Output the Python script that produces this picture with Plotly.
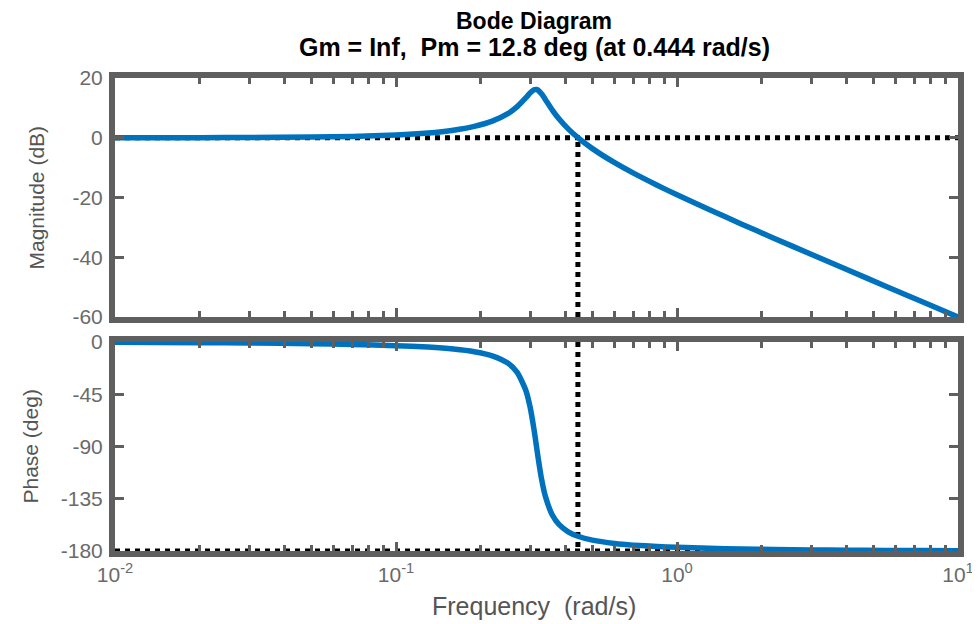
import plotly.graph_objects as go

# Frequency samples (rad/s)
freq = [0.01, 0.02, 0.03, 0.05, 0.07, 0.1, 0.13, 0.16, 0.19, 0.22, 0.25, 0.27,
        0.29, 0.30, 0.31, 0.316, 0.32, 0.33, 0.34, 0.36, 0.38, 0.41, 0.444,
        0.5, 0.6, 0.7, 0.85, 1.0, 1.3, 1.7, 2.2, 3.0, 4.0, 5.5, 7.5, 10.0]
# Magnitude (dB)
mag_db = [0.01, 0.03, 0.08, 0.22, 0.43, 0.90, 1.58, 2.52, 3.80, 5.56, 8.07, 10.40,
          13.40, 14.96, 16.04, 16.14, 15.94, 14.63, 12.80, 9.24, 6.34, 2.97, 0.04,
          -3.64, -8.36, -11.86, -15.90, -19.10, -24.03, -28.92, -33.52, -38.99,
          -44.03, -49.59, -54.99, -59.99]
# Phase (deg)
phase_deg = [-0.28, -0.57, -0.86, -1.45, -2.08, -3.14, -4.41, -6.06, -8.35, -11.88,
             -18.2, -26.17, -41.98, -55.95, -75.69, -89.47, -98.65, -118.67, -132.93,
             -149.04, -157.11, -163.46, -167.29, -170.66, -173.51, -174.94, -176.15,
             -176.86, -177.69, -178.28, -178.69, -179.05, -179.29, -179.48, -179.62,
             -179.72]

# Margin markers
wc = 0.444
x_range = [0.01, 10]
mag_ticks = [-60, -40, -20, 0, 20]
mag_text = ["-60", "-40", "-20", "0", "20"]
phase_ticks = [-180, -135, -90, -45, 0]
phase_text = ["-180", "-135", "-90", "-45", "0"]
x_major = [0.01, 0.1, 1, 10]
x_major_text = ["10<sup>-2</sup>", "10<sup>-1</sup>", "10<sup>0</sup>", "10<sup>1</sup>"]
x_minor = [m * d for d in [0.01, 0.1, 1] for m in range(2, 10)]

title_line1 = "Bode Diagram"
title_line2 = "Gm = Inf,  Pm = 12.8 deg (at 0.444 rad/s)"

BLUE = "#0072BD"
GRAY = "#5f5f5f"
LBL = "#6a6a6a"
TTL = "#555555"
FONT = "Liberation Sans, Arial, Helvetica, sans-serif"

fig = go.Figure()
dot = dict(color="black", width=5, dash="5px,5px")

fig.add_trace(go.Scatter(x=x_range, y=[0, 0], mode="lines", line=dot,
                         xaxis="x", yaxis="y", hoverinfo="skip"))
fig.add_trace(go.Scatter(x=[wc, wc], y=[mag_ticks[0], 0], mode="lines", line=dot,
                         xaxis="x", yaxis="y", hoverinfo="skip"))
fig.add_trace(go.Scatter(x=freq, y=mag_db, mode="lines",
                         line=dict(color=BLUE, width=5.5, shape="spline", smoothing=0.6),
                         xaxis="x", yaxis="y"))
fig.add_trace(go.Scatter(x=x_range, y=[-180, -180], mode="lines", line=dot,
                         xaxis="x2", yaxis="y2", hoverinfo="skip"))
fig.add_trace(go.Scatter(x=[wc, wc], y=[0, -180], mode="lines", line=dot,
                         xaxis="x2", yaxis="y2", hoverinfo="skip"))
fig.add_trace(go.Scatter(x=freq, y=phase_deg, mode="lines",
                         line=dict(color=BLUE, width=5.5, shape="spline", smoothing=0.6),
                         xaxis="x2", yaxis="y2"))

common_x = dict(type="log", range=[-2, 1], showgrid=False, zeroline=False,
                showline=True, linewidth=6, linecolor=GRAY, mirror="allticks",
                ticks="inside", ticklen=9, tickwidth=3, tickcolor=GRAY,
                tickmode="array", tickvals=x_major, ticktext=x_major_text,
                minor=dict(tickmode="array", tickvals=x_minor, ticks="inside",
                           ticklen=6, tickwidth=3, tickcolor=GRAY),
                tickfont=dict(family=FONT, size=21, color=LBL))
common_y = dict(showgrid=False, zeroline=False, showline=True, linewidth=6,
                linecolor=GRAY, mirror="allticks", ticks="inside", ticklen=9,
                tickwidth=3, tickcolor=GRAY, tickmode="array",
                tickfont=dict(family=FONT, size=21, color=LBL))

top_dom = [0.4947, 1]
bot_dom = [0, 0.4419]

annotations = [
    dict(text="<b>" + title_line1 + "</b>", x=0.4976, y=1.1205, xref="paper", yref="paper",
         xanchor="center", yanchor="middle", showarrow=False,
         font=dict(family=FONT, size=23, color="black")),
    dict(text="<b>" + title_line2 + "</b>", x=0.4976, y=1.0656, xref="paper", yref="paper",
         xanchor="center", yanchor="middle", showarrow=False,
         font=dict(family=FONT, size=25, color="black")),
    dict(text="Magnitude (dB)", x=-0.0937, y=sum(top_dom) / 2, xref="paper", yref="paper",
         xanchor="center", yanchor="middle", textangle=-90, showarrow=False,
         font=dict(family=FONT, size=21, color=TTL)),
    dict(text="Phase (deg)", x=-0.1008, y=sum(bot_dom) / 2, xref="paper", yref="paper",
         xanchor="center", yanchor="middle", textangle=-90, showarrow=False,
         font=dict(family=FONT, size=21, color=TTL)),
    dict(text="Frequency  (rad/s)", x=0.4976, y=-0.1163, xref="paper", yref="paper",
         xanchor="center", yanchor="middle", showarrow=False,
         font=dict(family=FONT, size=25, color=TTL)),
]

fig.update_layout(
    width=972, height=616,
    paper_bgcolor="white", plot_bgcolor="white",
    showlegend=False,
    margin=dict(l=107, r=22, t=70, b=73, autoexpand=False),
    annotations=annotations,
    xaxis=dict(**common_x, domain=[0, 1], anchor="y", showticklabels=False),
    yaxis=dict(**common_y, domain=top_dom, range=[-60, 20], tickvals=mag_ticks,
               ticktext=mag_text, ticklabelstandoff=2),
    xaxis2=dict(**common_x, domain=[0, 1], anchor="y2", showticklabels=True),
    yaxis2=dict(**common_y, domain=bot_dom, range=[-180, 0], tickvals=phase_ticks,
                ticktext=phase_text, ticklabelstandoff=2),
)

fig.write_html("out.html")
